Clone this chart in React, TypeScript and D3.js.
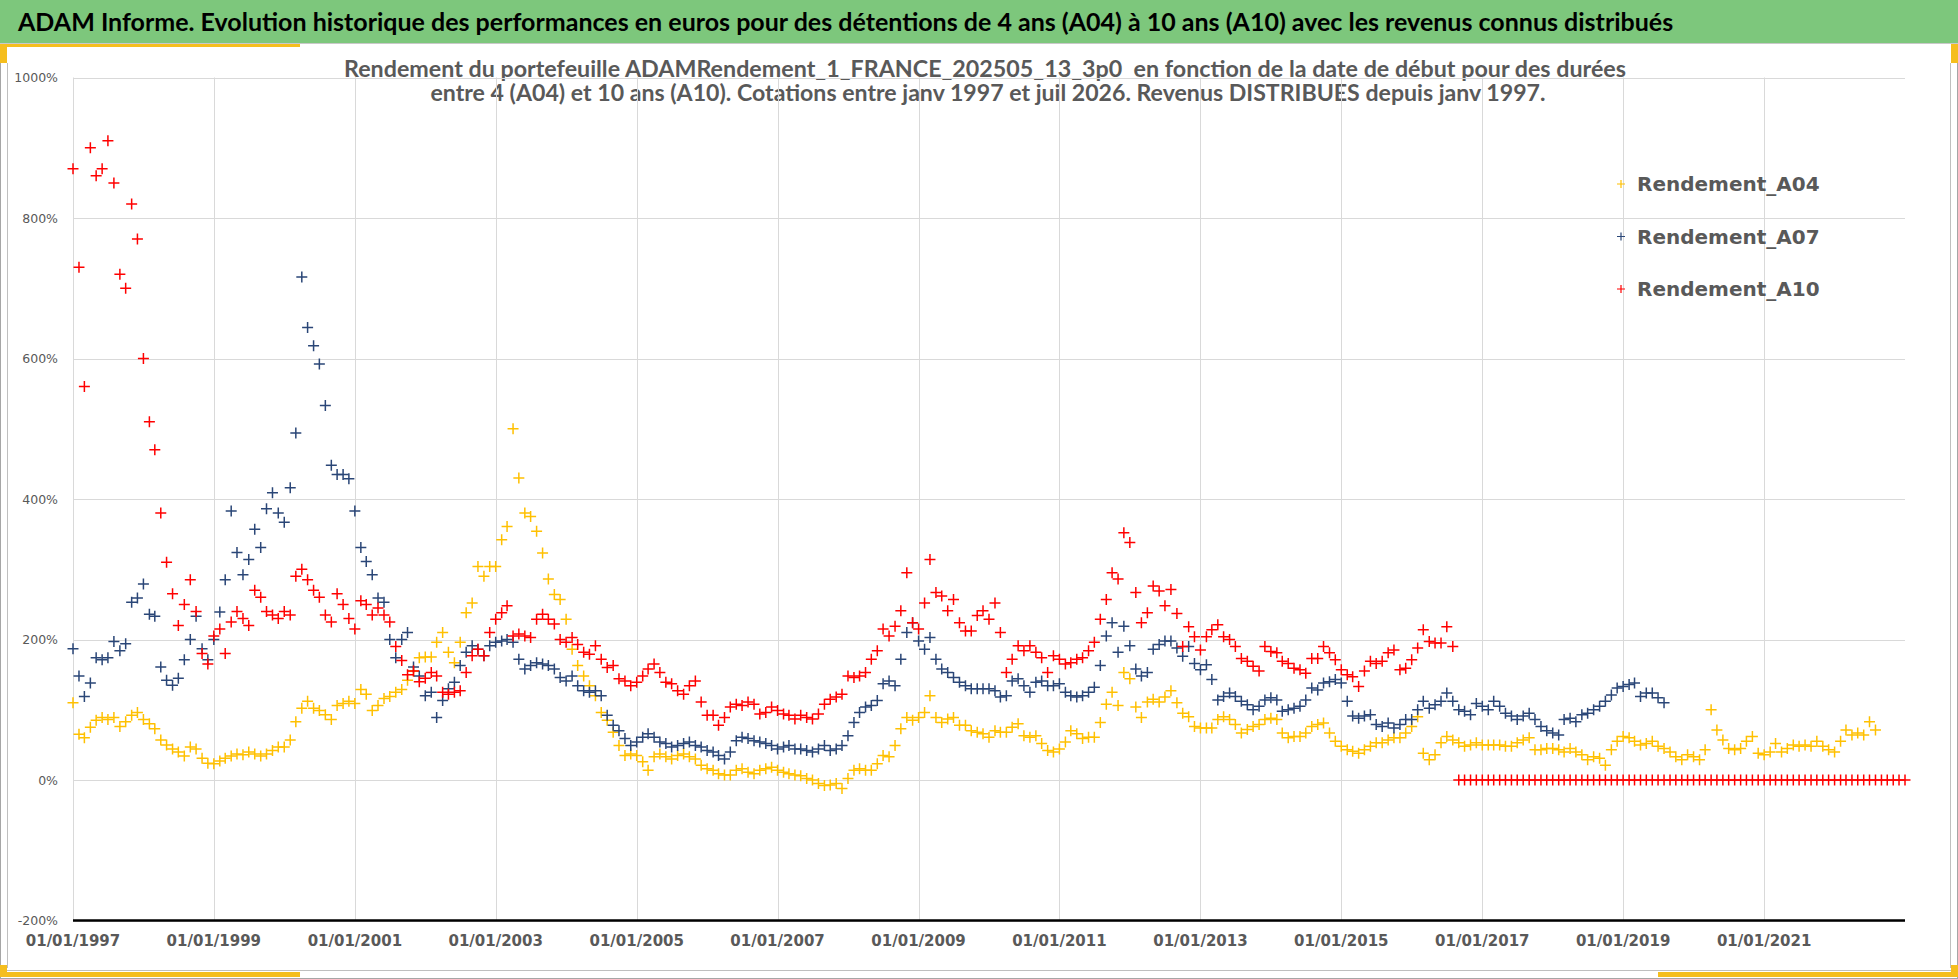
import React, { useEffect } from 'react';
import * as d3 from 'd3';

// monthly readings, first value = janv 1997
const rendementA04 = [
  110, 65, 60, 75, 85, 89, 86, 89, 76, 83, 92, 96,
  86, 80, 73, 57, 50, 44, 40, 34, 47, 44, 31, 24,
  23, 27, 31, 34, 37, 36, 40, 37, 34, 37, 42, 47,
  47, 57, 83, 102, 112, 102, 99, 93, 86, 106, 109, 112,
  109, 129, 122, 99, 106, 116, 119, 125, 129, 142, 155, 174,
  175, 175, 196, 210, 182, 167, 196, 238, 252, 304, 290, 304,
  304, 342, 361, 500, 430, 380, 375, 354, 323, 286, 264, 257,
  229, 186, 163, 148, 134, 120, 96, 85, 68, 49, 35, 37,
  35, 26, 14, 33, 37, 33, 30, 35, 37, 33, 30, 21,
  16, 14, 9, 7, 7, 14, 16, 11, 9, 14, 16, 18,
  14, 11, 9, 7, 6, 2, 0, -5, -8, -7, -5, -12,
  2, 14, 16, 14, 14, 23, 35, 33, 49, 73, 89, 85,
  89, 96, 120, 89, 82, 87, 89, 78, 78, 70, 68, 66,
  61, 70, 68, 68, 75, 80, 63, 61, 63, 52, 42, 40,
  44, 54, 70, 66, 59, 61, 61, 82, 108, 125, 106, 153,
  144, 104, 89, 111, 115, 111, 118, 127, 110, 95, 90, 76,
  74, 74, 74, 86, 90, 86, 79, 67, 72, 76, 79, 86,
  88, 86, 67, 60, 62, 62, 67, 76, 79, 81, 67, 55,
  48, 43, 41, 38, 43, 48, 53, 53, 57, 60, 60, 67,
  76, 90, 38, 29, 36, 53, 62, 57, 53, 48, 50, 53,
  50, 50, 50, 50, 48, 48, 53, 57, 60, 43, 43, 45,
  45, 43, 40, 45, 40, 36, 29, 33, 31, 21, 43, 55,
  62, 60, 55, 50, 52, 55, 48, 45, 40, 33, 29, 36,
  33, 29, 43, 100, 71, 57, 45, 43, 45, 55, 62, 38,
  36, 40, 52, 40, 45, 50, 48, 50, 48, 55, 48, 43,
  40, 55, 71, 64, 67, 64, 83, 71,
];

const rendementA07 = [
  187, 148, 119, 138, 174, 171, 174, 197, 184, 194, 253, 259,
  279, 236, 233, 161, 142, 135, 145, 171, 200, 233, 187, 171,
  200, 239, 285, 383, 324, 292, 314, 357, 331, 386, 409, 380,
  367, 416, 494, 716, 644, 618, 592, 533, 448, 435, 435, 429,
  383, 331, 311, 292, 259, 253, 200, 174, 200, 210, 161, 148,
  120, 125, 89, 113, 130, 139, 163, 182, 191, 186, 177, 191,
  196, 198, 200, 196, 172, 158, 163, 167, 165, 163, 158, 146,
  141, 148, 134, 127, 125, 127, 120, 92, 78, 70, 59, 49,
  54, 61, 66, 61, 54, 52, 47, 49, 52, 54, 49, 47,
  42, 40, 35, 30, 40, 56, 61, 59, 56, 54, 52, 49,
  44, 47, 49, 44, 44, 42, 40, 44, 49, 42, 44, 49,
  63, 82, 96, 104, 106, 113, 137, 141, 134, 172, 210, 224,
  198, 186, 203, 172, 158, 153, 146, 139, 134, 130, 130, 130,
  130, 127, 118, 120, 141, 144, 134, 125, 139, 141, 134, 134,
  137, 125, 120, 118, 120, 125, 132, 163, 205, 224, 182, 219,
  191, 158, 148, 153, 186, 193, 198, 198, 188, 176, 190, 166,
  157, 164, 143, 114, 119, 124, 119, 112, 107, 100, 105, 114,
  117, 114, 98, 100, 102, 105, 114, 131, 128, 138, 140, 143,
  138, 112, 91, 88, 91, 93, 79, 76, 81, 74, 79, 86,
  86, 100, 112, 102, 107, 112, 124, 112, 100, 98, 93, 109,
  105, 100, 112, 105, 95, 91, 86, 91, 95, 86, 76, 70,
  67, 64, 86, 88, 83, 93, 95, 100, 105, 112, 121, 131,
  133, 136, 138, 119, 124, 124, 117, 110,
];

const rendementA10 = [
  870, 730, 560, 900, 860, 870, 910, 850, 720, 700, 820, 770,
  600, 510, 470, 380, 310, 265, 220, 250, 285, 240, 180, 165,
  205, 215, 180, 225, 240, 230, 220, 270, 260, 240, 235, 230,
  240, 235, 290, 300, 285, 270, 260, 235, 225, 265, 250, 230,
  215, 255, 250, 235, 245, 235, 225, 190, 170, 150, 155, 140,
  145, 153, 148, 125, 122, 125, 127, 153, 177, 186, 177, 210,
  229, 238, 248, 205, 208, 205, 203, 229, 236, 229, 222, 200,
  196, 203, 193, 182, 179, 191, 172, 160, 163, 144, 141, 134,
  139, 148, 158, 165, 153, 139, 137, 127, 122, 134, 141, 111,
  92, 92, 78, 89, 104, 108, 106, 111, 108, 94, 96, 104,
  99, 94, 92, 87, 92, 89, 87, 94, 108, 115, 118, 122,
  148, 146, 148, 153, 172, 184, 215, 205, 219, 241, 295, 224,
  215, 252, 314, 267, 262, 241, 257, 224, 212, 212, 234, 241,
  229, 252, 210, 153, 172, 191, 184, 191, 182, 174, 153, 177,
  172, 165, 167, 172, 174, 184, 196, 229, 257, 295, 286, 352,
  338, 267, 224, 238, 276, 269, 248, 271, 237, 190, 218, 204,
  185, 204, 214, 221, 204, 200, 190, 173, 169, 162, 155, 190,
  183, 181, 169, 166, 159, 157, 152, 173, 173, 190, 181, 171,
  157, 150, 147, 133, 155, 169, 166, 169, 181, 185, 157, 159,
  171, 188, 214, 197, 195, 195, 218, 190,
  // after aout 2016 the 10 year figure is not known yet: shown as 0
  0, 0, 0, 0, 0, 0, 0, 0, 0, 0, 0, 0,
  0, 0, 0, 0, 0, 0, 0, 0, 0, 0, 0, 0,
  0, 0, 0, 0, 0, 0, 0, 0, 0, 0, 0, 0,
  0, 0, 0, 0, 0, 0, 0, 0, 0, 0, 0, 0,
  0, 0, 0, 0, 0, 0, 0, 0, 0, 0, 0, 0,
  0, 0, 0, 0, 0, 0, 0, 0, 0, 0, 0, 0,
  0, 0, 0, 0, 0,
];

const seriesNames = ['Rendement_A04', 'Rendement_A07', 'Rendement_A10'];
const seriesColors = ['#FFC000', '#2A4677', '#FF0000'];
const yTicks = [-200, 0, 200, 400, 600, 800, 1000];
const xTickYears = [1997, 1999, 2001, 2003, 2005, 2007, 2009, 2011, 2013, 2015, 2017, 2019, 2021];

const title =
  'ADAM Informe. Evolution historique des performances en euros pour des détentions de 4 ans (A04) à 10 ans (A10) avec les revenus connus distribués';
const subtitle1 =
  'Rendement du portefeuille ADAMRendement_1_FRANCE_202505_13_3p0  en fonction de la date de début pour des durées';
const subtitle2 =
  'entre 4 (A04) et 10 ans (A10). Cotations entre janv 1997 et juil 2026. Revenus DISTRIBUES depuis janv 1997.';

const W = 1958;
const H = 979;
const plot = { left: 73, right: 1905, top: 77.5, bottom: 920.5 };

const plus = (s) => `M${-s},0H${s}M0,${-s}V${s}`;

export default function App() {
  useEffect(() => {
    document.body.style.margin = '0';
    document.body.style.overflow = 'hidden';
  }, []);

  const x = d3
    .scaleTime()
    .domain([new Date(1997, 0, 1), new Date(2023, 0, 1)])
    .range([plot.left, plot.right]);
  const y = d3.scaleLinear().domain([-200, 1000]).range([plot.bottom, plot.top]);

  const allSeries = [rendementA04, rendementA07, rendementA10];
  const grey = '#595959';

  return (
    <svg width={W} height={H} style={{ display: 'block', background: '#fff' }}>
      {/* frame */}
      <rect x={0.5} y={0.5} width={W - 1} height={H - 1} fill="#fff" stroke="#A6A6A6" />
      <rect x={0} y={0} width={W} height={43} fill="#7DC77C" />
      <line x1={0} x2={W} y1={43.5} y2={43.5} stroke="#C9C9C9" />
      <line x1={7.5} x2={7.5} y1={63} y2={968} stroke="#BFBFBF" />
      <line x1={W - 7.5} x2={W - 7.5} y1={63} y2={968} stroke="#BFBFBF" />
      <line x1={7} x2={W - 7} y1={970.5} y2={970.5} stroke="#BFBFBF" />
      <rect x={0} y={44} width={300} height={3} fill="#F5BE1E" />
      <rect x={0} y={44} width={7} height={19} fill="#F5BE1E" />
      <rect x={W - 7} y={44} width={7} height={19} fill="#F5BE1E" />
      <rect x={0} y={965} width={7} height={12} fill="#F5BE1E" />
      <rect x={0} y={972} width={300} height={5} fill="#F5BE1E" />
      <rect x={W - 7} y={965} width={7} height={12} fill="#F5BE1E" />
      <rect x={W - 300} y={972} width={300} height={5} fill="#F5BE1E" />

      <text x={18} y={31} fontFamily="Lato" fontWeight="bold" fontSize={25} fill="#000">
        {title}
      </text>
      <text
        x={985}
        y={77}
        textAnchor="middle"
        fontFamily="Lato"
        fontWeight="bold"
        fontSize={22}
        fill={grey}
        textLength={1282}
        lengthAdjust="spacingAndGlyphs"
        style={{ whiteSpace: 'pre' }}
      >
        {subtitle1}
      </text>
      <text
        x={988}
        y={101}
        textAnchor="middle"
        fontFamily="Lato"
        fontWeight="bold"
        fontSize={22}
        fill={grey}
        textLength={1115}
        lengthAdjust="spacingAndGlyphs"
      >
        {subtitle2}
      </text>

      {/* grid */}
      <g stroke="#D9D9D9" strokeWidth={1}>
        {yTicks.map((t) => (
          <line key={t} x1={plot.left} x2={plot.right} y1={Math.round(y(t)) + 0.5} y2={Math.round(y(t)) + 0.5} />
        ))}
        {xTickYears.map((yr) => {
          const px = Math.round(x(new Date(yr, 0, 1))) + 0.5;
          return <line key={yr} x1={px} x2={px} y1={plot.top} y2={plot.bottom} />;
        })}
      </g>
      <line x1={plot.left} x2={plot.right} y1={y(-200)} y2={y(-200)} stroke="#000" strokeWidth={2.5} />

      {/* axes labels */}
      <g fontFamily="DejaVu Sans" fontSize={12.5} fill={grey} textAnchor="end">
        {yTicks.map((t) => (
          <text key={t} x={58} y={y(t)} dy="0.36em">
            {t}%
          </text>
        ))}
      </g>
      <g fontFamily="DejaVu Sans" fontWeight="bold" fontSize={15} fill={grey} textAnchor="middle">
        {xTickYears.map((yr) => (
          <text key={yr} x={x(new Date(yr, 0, 1))} y={946}>
            {d3.timeFormat('%d/%m/%Y')(new Date(yr, 0, 1))}
          </text>
        ))}
      </g>

      {/* points */}
      {allSeries.map((values, si) => (
        <g key={si} stroke={seriesColors[si]} strokeWidth={1.5} fill="none">
          {values.map((v, i) => (
            <path key={i} transform={`translate(${x(new Date(1997, i, 1))},${y(v)})`} d={plus(5.5)} />
          ))}
        </g>
      ))}

      {/* legend */}
      {seriesNames.map((name, i) => (
        <g key={name} transform={`translate(1621,${184 + i * 52.5})`}>
          <path d={plus(4)} stroke={seriesColors[i]} strokeWidth={1.2} />
          <text x={16} dy="0.36em" fontFamily="DejaVu Sans" fontWeight="bold" fontSize={20} fill={grey}>
            {name}
          </text>
        </g>
      ))}
    </svg>
  );
}
